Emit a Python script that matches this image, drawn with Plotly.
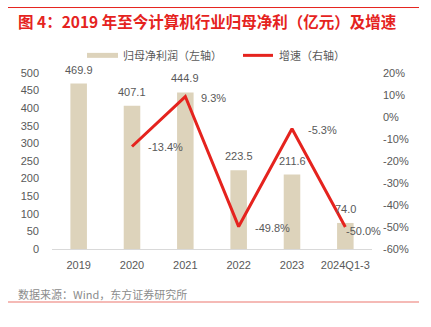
import plotly.graph_objects as go

# Data
categories = ["2019", "2020", "2021", "2022", "2023", "2024Q1-3"]
net_profit = [469.9, 407.1, 444.9, 223.5, 211.6, 74.0]
growth_pct = [None, -13.4, 9.3, -49.8, -5.3, -50.0]
left_ticks = list(range(0, 501, 50))
right_ticks = list(range(-60, 21, 10))

W, H = 431, 327
L, R, T, B = 52, 372, 72.7, 249.3

BAR = "#DDD3BB"
RED = "#E5231E"
GREY = "#595959"
FONT = "Liberation Sans, Noto Sans CJK SC, sans-serif"
CJK = "Noto Sans CJK SC, sans-serif"

xpos = list(range(len(categories)))


def px(x):
    return (x - L) / (R - L)


def py(y):
    return (B - y) / (B - T)


fig = go.Figure()
fig.add_trace(go.Bar(
    x=xpos, y=net_profit, name="归母净利润（左轴）",
    marker=dict(color=BAR, line=dict(width=0)), yaxis="y",
))
fig.add_trace(go.Scatter(
    x=xpos, y=[g / 100 if g is not None else None for g in growth_pct],
    name="增速（右轴）", mode="lines", line=dict(color=RED, width=3),
    yaxis="y2",
))

annotations = []
# Bar value labels
for i, v in zip(xpos, net_profit):
    annotations.append(dict(
        x=i, y=v, xref="x", yref="y", text=f"{v:.1f}", showarrow=False,
        xanchor="center", yanchor="bottom", yshift=6,
        font=dict(size=11, color=GREY, family=FONT),
    ))
# Growth labels
for i, g in zip(xpos, growth_pct):
    if g is None:
        continue
    last = i == len(categories) - 1
    annotations.append(dict(
        x=i, y=g / 100, xref="x", yref="y2", text=f"{g:.1f}%", showarrow=False,
        xanchor="left", yanchor="middle",
        xshift=-1 if last else 14, yshift=-4 if last else -1,
        font=dict(size=11, color=GREY, family=FONT),
    ))

# Title, legend, source
annotations.append(dict(
    x=px(16), y=py(21), xref="paper", yref="paper", xanchor="left", yanchor="middle",
    text="<b>图 4：2019 年至今计算机行业归母净利（亿元）及增速</b>", showarrow=False,
    font=dict(size=15.5, color=RED, family=CJK),
))
annotations.append(dict(
    x=px(121), y=py(55), xref="paper", yref="paper", xanchor="left", yanchor="middle",
    text="归母净利润（左轴）", showarrow=False,
    font=dict(size=11, color=GREY, family=CJK),
))
annotations.append(dict(
    x=px(277), y=py(55), xref="paper", yref="paper", xanchor="left", yanchor="middle",
    text="增速（右轴）", showarrow=False,
    font=dict(size=11, color=GREY, family=CJK),
))
annotations.append(dict(
    x=px(16), y=py(294), xref="paper", yref="paper", xanchor="left", yanchor="middle",
    text="数据来源：Wind，东方证券研究所", showarrow=False,
    font=dict(size=11, color="#8C8C8C", family=CJK),
))

shapes = [
    dict(type="line", xref="paper", yref="paper", x0=px(8), x1=px(419), y0=py(7), y1=py(7),
         line=dict(color=RED, width=1)),
    dict(type="line", xref="paper", yref="paper", x0=px(8), x1=px(419), y0=py(302.5), y1=py(302.5),
         line=dict(color="#F2A39E", width=1.5)),
    dict(type="rect", xref="paper", yref="paper", x0=px(87), x1=px(118), y0=py(57.5), y1=py(52.5),
         fillcolor=BAR, line=dict(width=0)),
    dict(type="line", xref="paper", yref="paper", x0=px(243), x1=px(273), y0=py(55), y1=py(55),
         line=dict(color=RED, width=3)),
]

fig.update_layout(
    width=W, height=H,
    margin=dict(l=L, r=W - R, t=T, b=H - B, pad=0),
    paper_bgcolor="white", plot_bgcolor="white",
    bargap=0.69,
    font=dict(family=FONT, size=11, color=GREY),
    xaxis=dict(
        range=[-0.5, len(categories) - 0.5], tickvals=xpos, ticktext=categories,
        showgrid=False, zeroline=False, showline=True, linecolor="#D9D9D9", linewidth=1,
        ticks="", tickfont=dict(size=11, color=GREY), ticklabelstandoff=6,
    ),
    yaxis=dict(
        range=[0, 500], tickvals=left_ticks, showgrid=False, zeroline=False,
        showline=False, ticks="", ticklabelstandoff=12, tickfont=dict(size=11, color=GREY),
    ),
    yaxis2=dict(
        range=[-0.6, 0.2], tickvals=[t / 100 for t in right_ticks],
        ticktext=[f"{t}%" for t in right_ticks], overlaying="y", side="right",
        showgrid=False, zeroline=False, showline=False, ticks="",
        ticklabelstandoff=10, tickfont=dict(size=11, color=GREY),
    ),
    annotations=annotations, shapes=shapes,
    showlegend=False,
)

fig.write_html("out.html")
